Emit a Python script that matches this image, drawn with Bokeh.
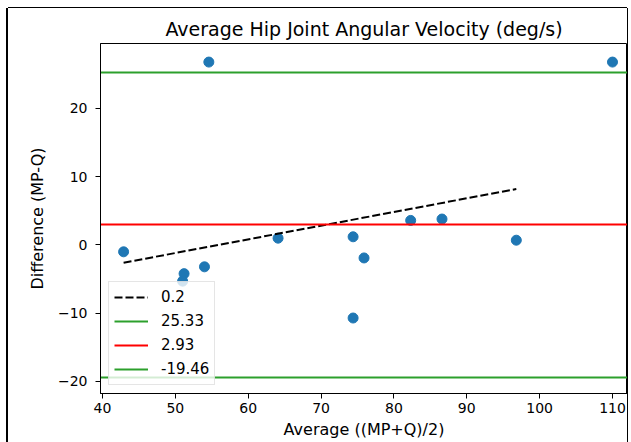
from bokeh.plotting import figure
from bokeh.models import (Range1d, FixedTicker, CustomJSTickFormatter,
                          Legend, LegendItem)
from bokeh.embed import file_html
from bokeh.resources import INLINE

# ---- data ----
means = [42.9, 51.2, 51.0, 54.0, 54.6, 64.1, 74.4, 74.4, 75.9, 82.3, 86.6, 96.8, 110.0]
diffs = [-1.0, -4.2, -5.3, -3.2, 26.8, 1.0, 1.2, -10.7, -1.9, 3.6, 3.8, 0.7, 26.8]
fit_x = [42.9, 96.8]
fit_y = [-2.6, 8.2]
slope_label = "0.2"
upper_loa = [25.33]
mean_diff = [2.93]
lower_loa = [-19.46]
upper_label = "25.33"
mean_label = "2.93"
lower_label = "-19.46"
x_ticks = [40, 50, 60, 70, 80, 90, 100, 110]
y_ticks = [-20, -10, 0, 10, 20]

FONT = "DejaVu Sans"
BLUE = "#1f77b4"
GREEN = "#2ca02c"
RED = "#ff0000"

p = figure(width=619, height=434, output_backend="svg", toolbar_location=None,
           x_range=Range1d(39.73, 112.06), y_range=Range1d(-21.76, 29.52),
           min_border_left=92, min_border_right=0, min_border_top=35,
           min_border_bottom=49,
           title="Average Hip Joint Angular Velocity (deg/s)")
p.margin = (8, 0, 0, 8)

p.background_fill_color = "white"
p.border_fill_color = "white"
p.outline_line_color = "black"
p.outline_line_width = 1
p.xgrid.visible = False
p.ygrid.visible = False

p.title.text_font = FONT
p.title.text_font_size = "19px"
p.title.text_font_style = "normal"
p.title.text_color = "black"
p.title.align = "center"
p.title.standoff = 7

p.xaxis.axis_label = "Average ((MP+Q)/2)"
p.yaxis.axis_label = "Difference (MP-Q)"
p.xaxis.ticker = FixedTicker(ticks=x_ticks)
p.yaxis.ticker = FixedTicker(ticks=y_ticks)
minus_fmt = CustomJSTickFormatter(code="return tick < 0 ? '\\u2212' + (-tick) : String(tick);")
p.yaxis.formatter = minus_fmt

for ax in (p.xaxis[0], p.yaxis[0]):
    ax.major_label_text_font = FONT
    ax.major_label_text_font_size = "14px"
    ax.major_label_text_color = "black"
    ax.axis_label_text_font = FONT
    ax.axis_label_text_font_size = "16px"
    ax.axis_label_text_font_style = "normal"
    ax.axis_label_text_color = "black"
    ax.axis_line_color = "black"
    ax.axis_line_width = 1
    ax.major_tick_line_color = "black"
    ax.major_tick_out = 5
    ax.major_tick_in = 0
    ax.minor_tick_out = 0
    ax.minor_tick_in = 0

p.xaxis.major_label_standoff = 4
p.xaxis.axis_label_standoff = 4
p.yaxis.major_label_standoff = 8
p.yaxis.axis_label_standoff = 8

p.scatter(means, diffs, size=10, fill_color=BLUE, line_color=BLUE)

r_fit = p.line(fit_x, fit_y, line_color="black", line_width=2, line_dash="8 3")
r_up = p.hspan(y=upper_loa, line_color=GREEN, line_width=2)
r_mean = p.hspan(y=mean_diff, line_color=RED, line_width=2)
r_low = p.hspan(y=lower_loa, line_color=GREEN, line_width=2)

legend = Legend(items=[LegendItem(label=slope_label, renderers=[r_fit]),
                       LegendItem(label=upper_label, renderers=[r_up]),
                       LegendItem(label=mean_label, renderers=[r_mean]),
                       LegendItem(label=lower_label, renderers=[r_low])],
                location="bottom_left")
legend.label_text_font = FONT
legend.label_text_font_size = "15px"
legend.label_text_color = "black"
legend.glyph_width = 34
legend.glyph_height = 20
legend.label_height = 20
legend.spacing = 4
legend.padding = 5
legend.margin = 8
legend.label_standoff = 13
legend.border_line_color = "#cccccc"
legend.border_line_width = 1
legend.background_fill_color = "white"
legend.background_fill_alpha = 0.8
p.add_layout(legend)

p.styles = {"box-shadow": "-2px 0 0 0 black, 0 -1px 0 0 black, 1px 0 0 0 black"}

open("out.html", "w").write(file_html(p, INLINE))
